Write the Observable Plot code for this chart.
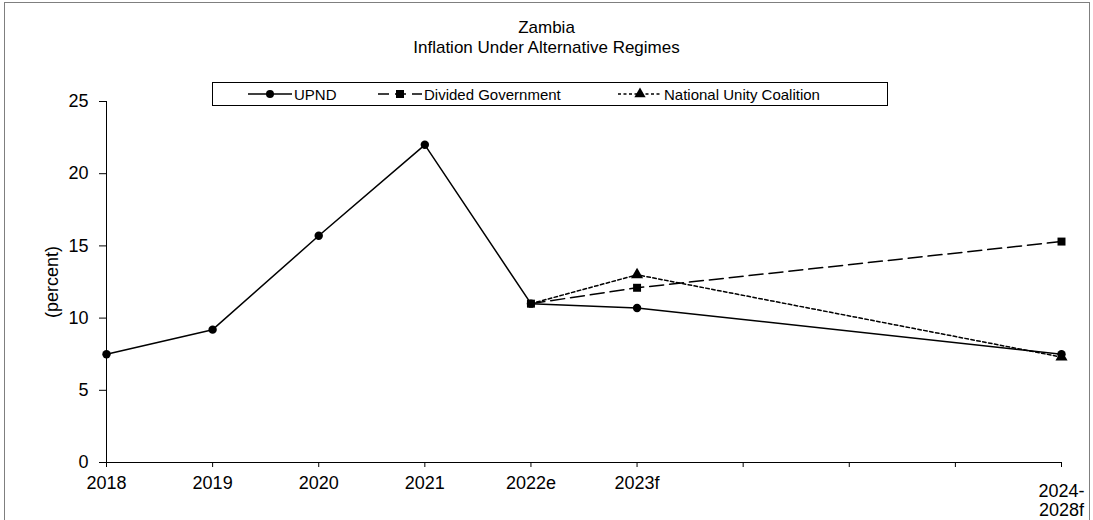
<!DOCTYPE html>
<html>
<head>
<meta charset="utf-8">
<script src="https://cdn.jsdelivr.net/npm/d3@7"></script>
<script src="https://cdn.jsdelivr.net/npm/@observablehq/plot@0.6"></script>
<style>
  html, body { margin: 0; padding: 0; background: #fff; }
  body { font-family: "Liberation Sans", Arial, sans-serif; }
  #wrap { position: relative; width: 1093px; height: 520px; overflow: hidden; }
  #border { position: absolute; left: 4px; top: 2px; width: 1086px; height: 540px; border: 1px solid #7f7f7f; box-sizing: border-box; pointer-events: none; }
  #title { position: absolute; left: 0; width: 1093px; top: 18px; text-align: center; font-size: 17px; line-height: 20px; color: #000; }
  #legend { position: absolute; left: 212px; top: 82px; width: 676px; height: 24px; border: 1px solid #000; box-sizing: border-box; background: #fff; font-size: 15px; }
  .item { position: absolute; top: 0; height: 22px; display: flex; align-items: center; white-space: nowrap; }
  .item svg { display: block; }
</style>
</head>
<body>
<div id="wrap">
  <div id="chart"></div>
  <div id="title">Zambia<br>Inflation Under Alternative Regimes</div>
  <div id="legend"></div>
  <div id="border"></div>
</div>
<script>
// Time axis: ten evenly spaced slots, three unlabeled between the 2023 forecast and the 2024-2028 average
const periods = ["2018", "2019", "2020", "2021", "2022e", "2023f", "", "", "", "2024-2028f"];

// Inflation, percent
const upndPeriods = ["2018", "2019", "2020", "2021", "2022e", "2023f", "2024-2028f"];
const upndValues = [7.5, 9.2, 15.7, 22.0, 11.0, 10.7, 7.5];

const dividedPeriods = ["2022e", "2023f", "2024-2028f"];
const dividedValues = [11.0, 12.1, 15.3];

const unityPeriods = ["2022e", "2023f", "2024-2028f"];
const unityValues = [11.0, 13.0, 7.3];

const yTicks = [0, 5, 10, 15, 20, 25];

const slot = p => periods.indexOf(p);
const rows = (name, ps, vs) => ps.map((p, i) => ({series: name, x: slot(p), value: vs[i]}));

const upnd = rows("UPND", upndPeriods, upndValues);
const divided = rows("Divided Government", dividedPeriods, dividedValues);
const unity = rows("National Unity Coalition", unityPeriods, unityValues);

const font = "Liberation Sans, Arial, sans-serif";
const slots = d3.range(periods.length);
const last = slots.length - 1;

const chart = Plot.plot({
  width: 1093,
  height: 520,
  marginLeft: 106,
  marginRight: 32,
  marginTop: 101,
  marginBottom: 58,
  style: {fontFamily: font, fontSize: "18px", color: "#000", background: "transparent"},
  x: {type: "linear", domain: [0, last]},
  y: {domain: [0, 25]},
  marks: [
    Plot.axisX(slots, {
      tickSize: 5, tickPadding: 9, fontSize: 18, stroke: "#000", label: null,
      tickFormat: i => (i === last ? "" : periods[i])
    }),
    // the two-line period label sits a little lower than the single-line ones
    Plot.text([last], {
      x: d => d, y: () => 0, text: i => periods[i].replace("-", "-\n"),
      lineAnchor: "top", dy: 21, fontSize: 18, lineHeight: 1.05, fill: "#000"
    }),
    Plot.axisY(yTicks, {
      tickSize: 7, tickPadding: 11, fontSize: 18, stroke: "#000",
      label: "(percent)", labelAnchor: "center", labelArrow: "none", labelOffset: 61
    }),
    Plot.ruleX([0], {stroke: "#000", strokeWidth: 1}),
    Plot.ruleY([0], {stroke: "#000", strokeWidth: 1}),
    Plot.line(upnd, {x: "x", y: "value", stroke: "#000", strokeWidth: 1.5}),
    Plot.line(unity, {x: "x", y: "value", stroke: "#000", strokeWidth: 1.5, strokeDasharray: "3.5,2.5"}),
    Plot.line(divided, {x: "x", y: "value", stroke: "#000", strokeWidth: 1.5, strokeDasharray: "14,6"}),
    Plot.dot(upnd, {x: "x", y: "value", r: 4.2, fill: "#000", stroke: "none"}),
    Plot.dot(unity.slice(1), {x: "x", y: "value", symbol: "triangle", r: 4.5, fill: "#000", stroke: "none"}),
    Plot.dot(divided, {x: "x", y: "value", symbol: "square", r: 4.5, fill: "#000", stroke: "none"})
  ]
});
document.getElementById("chart").appendChild(chart);

// Legend entries: swatch line, marker, label
const legendItems = [
  {label: "UPND", left: 35, dash: null, symbol: d3.symbolCircle, size: 50},
  {label: "Divided Government", left: 165, dash: "11,6", symbol: d3.symbolSquare, size: 64},
  {label: "National Unity Coalition", left: 405, dash: "3,2.5", symbol: d3.symbolTriangle, size: 55}
];
const legend = d3.select("#legend");
for (const it of legendItems) {
  const item = legend.append("div").attr("class", "item").style("left", it.left + "px");
  const svg = item.append("svg").attr("width", 44).attr("height", 22);
  svg.append("line").attr("x1", 0).attr("x2", 44).attr("y1", 11).attr("y2", 11)
    .attr("stroke", "#000").attr("stroke-width", 1.5)
    .attr("stroke-dasharray", it.dash);
  svg.append("path").attr("transform", "translate(22,11)")
    .attr("d", d3.symbol(it.symbol, it.size)()).attr("fill", "#000");
  item.append("span").style("margin-left", "2px").text(it.label);
}
</script>
</body>
</html>
